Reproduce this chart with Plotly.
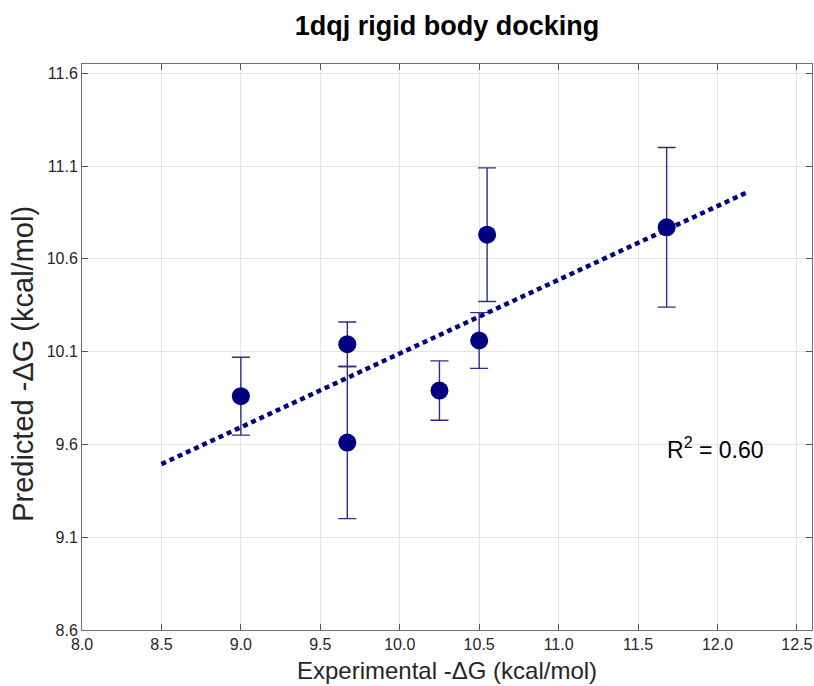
import plotly.graph_objects as go

exp_dg = [9.00, 9.67, 9.67, 10.25, 10.50, 10.55, 11.68]
pred_dg = [9.86, 9.61, 10.14, 9.89, 10.16, 10.73, 10.77]
pred_err = [0.21, 0.41, 0.12, 0.16, 0.15, 0.36, 0.43]

fit_x = [8.5, 12.2]
fit_y = [9.494, 10.964]

x_ticks = [8.0, 8.5, 9.0, 9.5, 10.0, 10.5, 11.0, 11.5, 12.0, 12.5]
y_ticks = [8.6, 9.1, 9.6, 10.1, 10.6, 11.1, 11.6]

NAVY = "#000080"
FONT = "Liberation Sans, Arial, Helvetica, sans-serif"

fig = go.Figure()
fig.add_trace(go.Scatter(
    x=fit_x, y=fit_y, mode="lines",
    line=dict(color=NAVY, width=4.5, dash="5px,4px"),
    showlegend=False, hoverinfo="skip"))
fig.add_trace(go.Scatter(
    x=exp_dg, y=pred_dg, mode="markers",
    marker=dict(color=NAVY, size=18, line=dict(width=0)),
    error_y=dict(type="data", array=pred_err, visible=True,
                 color="#2e2e86", thickness=1.4, width=9),
    showlegend=False))

fig.add_annotation(x=11.69, y=9.58, xref="x", yref="y",
                   text="R<sup>2</sup> = 0.60", showarrow=False,
                   xanchor="left", yanchor="middle", xshift=-3,
                   font=dict(family=FONT, size=23, color="#000000"))

# y-axis title placed as rotated text
fig.add_annotation(x=-0.081, y=0.47, xref="paper", yref="paper",
                   text="Predicted -ΔG (kcal/mol)", showarrow=False,
                   textangle=-90, xanchor="center", yanchor="middle",
                   font=dict(family=FONT, size=29, color="#262626"))

axis_common = dict(
    showline=True, linecolor="#707070", linewidth=1, mirror="allticks",
    ticks="inside", ticklen=6, tickcolor="#555555", tickwidth=1,
    showgrid=True, gridcolor="#e3e3e3", gridwidth=1, zeroline=False,
    tickfont=dict(family=FONT, size=16, color="#262626"),
)

fig.update_layout(
    width=814, height=686,
    margin=dict(l=82, r=2, t=64, b=56),
    paper_bgcolor="white", plot_bgcolor="white",
    title=dict(text="<b>1dqj rigid body docking</b>", x=0.5, xref="paper",
               y=0.963, yref="container", xanchor="center", yanchor="middle",
               font=dict(family=FONT, size=27, color="#000000")),
    xaxis=dict(range=[8.0, 12.595], tickvals=x_ticks,
               ticktext=[f"{v:.1f}" for v in x_ticks],
               title=dict(text="Experimental -ΔG (kcal/mol)", standoff=9,
                          font=dict(family=FONT, size=24, color="#262626")),
               **axis_common),
    yaxis=dict(range=[8.6, 11.65], tickvals=y_ticks,
               ticktext=[f"{v:.1f}" for v in y_ticks],
               **axis_common),
)

fig.write_html("out.html")
